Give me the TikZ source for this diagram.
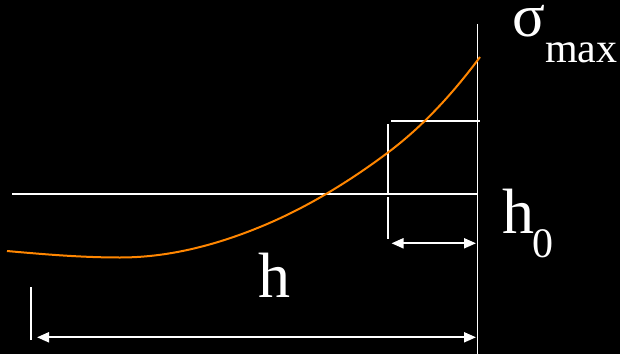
\documentclass[tikz,border=0pt]{standalone}
\usepackage{fontspec}
\setmainfont{Liberation Serif}
\usetikzlibrary{arrows.meta}
\begin{document}
\begin{tikzpicture}[
        x=1pt, y=1pt,
        guide/.style={draw=white, line width=1.4pt},
        dim/.style={draw=white, line width=2pt,
          {Triangle[length=12pt,width=10pt]}-{Triangle[length=12pt,width=10pt]}},
        stress/.style={draw=orange!95!yellow, line width=2pt},
        label/.style={text=white, inner sep=0pt, anchor=base west,
          font=\fontsize{64}{64}\selectfont},
        sublabel/.style={label, font=\fontsize{42}{42}\selectfont}
      ]
      \fill[black] (0,0) rectangle (620,354);
      \useasboundingbox (0,0) rectangle (620,354);

      % reference lines
      \coordinate (walltop) at (477.5,330);
      \coordinate (wallbot) at (477.5,0);
      \coordinate (levelL) at (12,160);
      \coordinate (levelR) at (477.5,160);
      \coordinate (capL) at (391,233);
      \coordinate (capR) at (480,233);
      \coordinate (markT) at (388,230);
      \coordinate (markM) at (388,160.7);
      \coordinate (markN) at (388,156.7);
      \coordinate (markB) at (388,115);
      \coordinate (startT) at (31,67);
      \coordinate (startB) at (31,14);
      \draw[guide] (walltop) -- (wallbot);
      \draw[guide] (levelL) -- (levelR);
      \draw[guide] (capL) -- (capR);
      \draw[guide] (markT) -- (markM);
      \draw[guide] (markN) -- (markB);
      \draw[guide] (startT) -- (startB);

      % dimension arrows
      \coordinate (hzeroL) at (391.5,110.7);
      \coordinate (hzeroR) at (476,110.7);
      \coordinate (hL) at (37,16.7);
      \coordinate (hR) at (476,16.7);
      \draw[dim] (hzeroL) -- (hzeroR);
      \draw[dim] (hL) -- (hR);

      % stress curve
      \draw[stress] (7,103) .. controls (44.7,99.6) and (82.3,96.5) .. (120,96.5)
        .. controls (166.7,96.5) and (213.3,107.9) .. (260,127)
        .. controls (302.7,144.5) and (345.3,169.5) .. (388,201.5)
        .. controls (418.7,224.5) and (449.3,255.6) .. (480,297);

      \node[label, font=\fontsize{61}{61}\selectfont] (sigma) at (512,317) {σ};
      \node[sublabel] (sigmasub) at (545,291) {max};
      \node[label] (hzero) at (502,121) {h};
      \node[sublabel] (hzerosub) at (532,97) {0};
      \node[label] (hlabel) at (258,57) {h};
    \end{tikzpicture}
\end{document}
